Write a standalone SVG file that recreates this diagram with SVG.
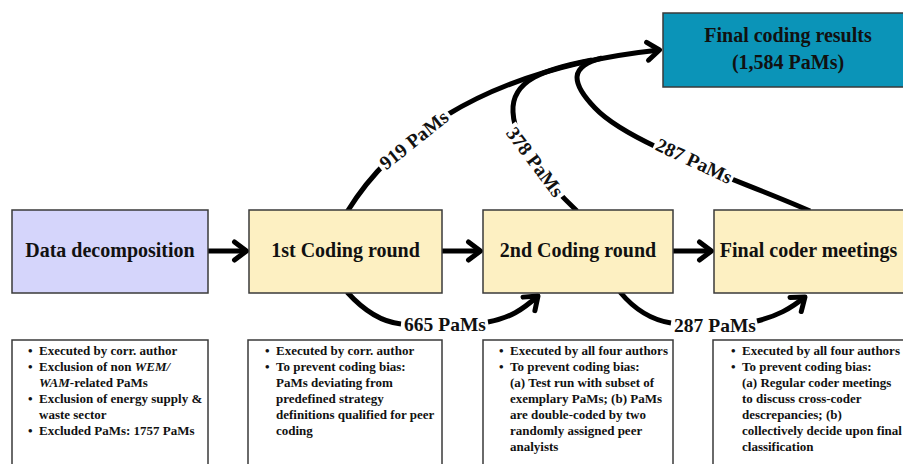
<svg xmlns="http://www.w3.org/2000/svg" width="903" height="464" viewBox="0 0 903 464">
<style>
.bx{stroke:#3a3a3a;stroke-width:1.5}
.t{font-family:"Liberation Serif","Times New Roman",serif;font-weight:bold;fill:#111}
.nd{font-size:20px;text-anchor:middle}
.lb{font-size:19.5px;text-anchor:middle}
.nt{font-size:13px}
.c{fill:none;stroke:#000;stroke-width:5;stroke-linecap:butt}
.a{marker-end:url(#arr)}
</style>
<defs>
<marker id="arr" markerUnits="userSpaceOnUse" markerWidth="24" markerHeight="28" viewBox="0 0 24 28" refX="16" refY="14" orient="auto">
<path d="M4,5 L16,14 L4,23" fill="none" stroke="#000" stroke-width="5" stroke-linecap="round" stroke-linejoin="round"/>
</marker>
</defs>
<rect width="903" height="464" fill="#fff"/>
<g id="connectors">
<path class="c a" d="M205,251 L246.5,251"/>
<path class="c a" d="M439,251 L480.5,251"/>
<path class="c a" d="M670,251 L711.5,251"/>
<path class="c a" d="M347,212 C385,150 470,70 659.5,50"/>
<path class="c" d="M577,211 C555,190 515,150 513,112 C511,80 545,69 592,60"/>
<path class="c" d="M810,211 C740,180 630,145 595,108 C570,82 570,66 602,58"/>
<path class="c a" d="M347,292 C365,312 382,322 401,324 M488,322 C510,318 522,310 538,296"/>
<path class="c a" d="M620,292 C635,310 652,320 671,323 M757,321 C777,316 790,309 805,297"/>
</g>
<g id="labels">
<g transform="translate(414,140) rotate(-38.5)"><rect x="-44" y="-9" width="88" height="18" fill="#fff"/><text class="t lb" x="0" y="6.5">919 PaMs</text></g>
<g transform="translate(535,162) rotate(53)"><rect x="-44" y="-9" width="88" height="18" fill="#fff"/><text class="t lb" x="0" y="6.5">378 PaMs</text></g>
<g transform="translate(694,161) rotate(25)"><rect x="-43" y="-9" width="86" height="18" fill="#fff"/><text class="t lb" x="0" y="6.5">287 PaMs</text></g>
<text class="t lb" x="445" y="331">665 PaMs</text>
<text class="t lb" x="715" y="332">287 PaMs</text>
</g>
<g id="data-decomposition">
<rect class="bx" x="12" y="210" width="196" height="83" fill="#d5d5fb"/>
<text class="t nd" x="110" y="257">Data decomposition</text>
</g>
<g id="coding-round-1">
<rect class="bx" x="249" y="210" width="193" height="83" fill="#fdf0c2"/>
<text class="t nd" x="345.5" y="257">1st Coding round</text>
</g>
<g id="coding-round-2">
<rect class="bx" x="483" y="210" width="190" height="83" fill="#fdf0c2"/>
<text class="t nd" x="578" y="257">2nd Coding round</text>
</g>
<g id="final-coder-meetings">
<rect class="bx" x="714" y="210" width="200" height="83" fill="#fdf0c2"/>
<text class="t nd" x="808.5" y="257">Final coder meetings</text>
</g>
<g id="final-coding-results">
<rect class="bx" x="663" y="13" width="250" height="74" fill="#0b94b8"/>
<text class="t nd" x="788" y="42">Final coding results</text>
<text class="t nd" x="788" y="69">(1,584 PaMs)</text>
</g>
<g id="note-1">
<rect class="bx" x="12" y="340" width="196" height="140" fill="#fff"/>
<text class="t nt"><tspan x="28" y="355">•</tspan><tspan x="39" y="355">Executed by corr. author</tspan><tspan x="28" y="371">•</tspan><tspan x="39" y="371">Exclusion of non <tspan font-style="italic">WEM/</tspan></tspan><tspan x="39" y="387"><tspan font-style="italic">WAM</tspan>-related PaMs</tspan><tspan x="28" y="403">•</tspan><tspan x="39" y="403">Exclusion of energy supply &amp;</tspan><tspan x="39" y="419">waste sector</tspan><tspan x="28" y="435">•</tspan><tspan x="39" y="435">Excluded PaMs: 1757 PaMs</tspan></text>
</g>
<g id="note-2">
<rect class="bx" x="248" y="340" width="194" height="140" fill="#fff"/>
<text class="t nt"><tspan x="265" y="355">•</tspan><tspan x="276" y="355">Executed by corr. author</tspan><tspan x="265" y="371">•</tspan><tspan x="276" y="371">To prevent coding bias:</tspan><tspan x="276" y="387">PaMs deviating from</tspan><tspan x="276" y="403">predefined strategy</tspan><tspan x="276" y="419">definitions qualified for peer</tspan><tspan x="276" y="435">coding</tspan></text>
</g>
<g id="note-3">
<rect class="bx" x="483" y="340" width="190" height="140" fill="#fff"/>
<text class="t nt"><tspan x="499" y="355">•</tspan><tspan x="510" y="355">Executed by all four authors</tspan><tspan x="499" y="371">•</tspan><tspan x="510" y="371">To prevent coding bias:</tspan><tspan x="510" y="387">(a) Test run with subset of</tspan><tspan x="510" y="403">exemplary PaMs; (b) PaMs</tspan><tspan x="510" y="419">are double-coded by two</tspan><tspan x="510" y="435">randomly assigned peer</tspan><tspan x="510" y="451">analyists</tspan></text>
</g>
<g id="note-4">
<rect class="bx" x="713" y="340" width="200" height="140" fill="#fff"/>
<text class="t nt"><tspan x="731" y="355">•</tspan><tspan x="742" y="355">Executed by all four authors</tspan><tspan x="731" y="371">•</tspan><tspan x="742" y="371">To prevent coding bias:</tspan><tspan x="742" y="387">(a) Regular coder meetings</tspan><tspan x="742" y="403">to discuss cross-coder</tspan><tspan x="742" y="419">descrepancies; (b)</tspan><tspan x="742" y="435">collectively decide upon final</tspan><tspan x="742" y="451">classification</tspan></text>
</g>
</svg>
